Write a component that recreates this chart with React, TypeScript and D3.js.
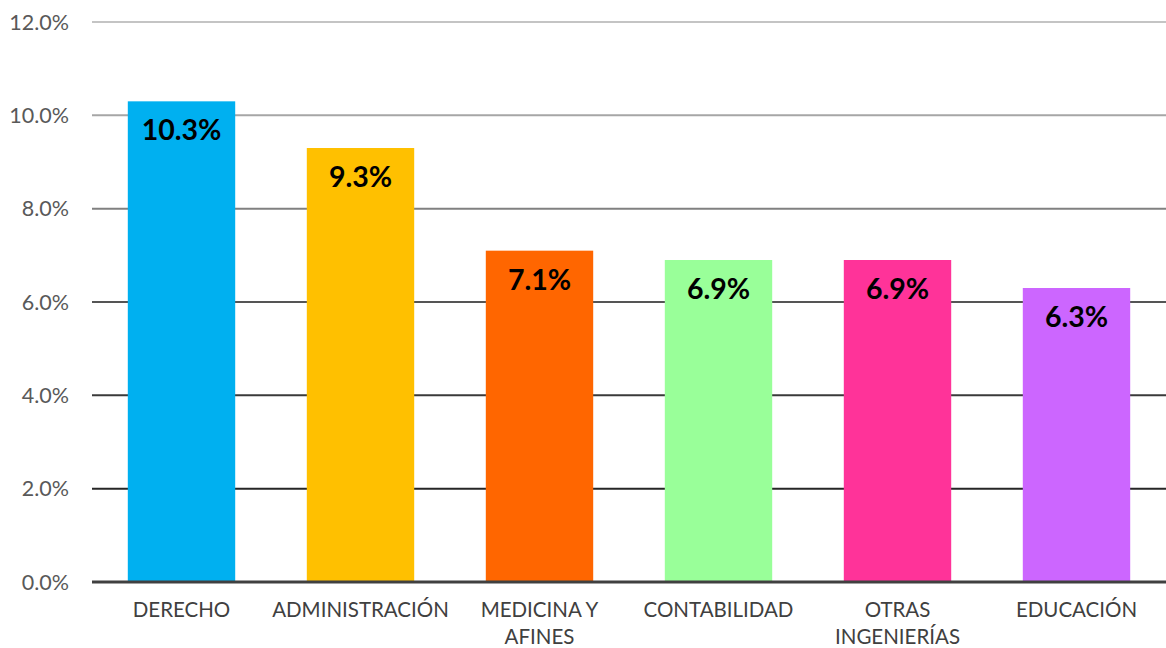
import React from "react";
import * as d3 from "d3";

const categories = [["DERECHO"], ["ADMINISTRACIÓN"], ["MEDICINA Y", "AFINES"], ["CONTABILIDAD"], ["OTRAS", "INGENIERÍAS"], ["EDUCACIÓN"]];
const values = [10.3, 9.3, 7.1, 6.9, 6.9, 6.3];
const colors = ["#00B0F0", "#FFC000", "#FF6600", "#99FF99", "#FF3399", "#CC66FF"];
const ticks = [0, 2, 4, 6, 8, 10, 12];
const gridColors = ["#404040", "#262626", "#3a3a3a", "#555555", "#808080", "#a6a6a6", "#c4c4c4"];

export default function App() {
  const W = 1166, H = 648;
  const left = 92, right = 1166, top = 22, bottom = 582;
  const keys = categories.map((_, i) => String(i));
  const x = d3.scaleBand().domain(keys).range([left, right]).paddingInner(0.4).paddingOuter(0.2);
  const y = d3.scaleLinear().domain([0, 12]).range([bottom, top]);
  const font = "'Century Gothic', 'URW Gothic', Lato, 'DejaVu Sans', sans-serif";
  return (
    <svg width={W} height={H} style={{ position: "absolute", left: 0, top: 0 }} fontFamily={font}>
      <rect width={W} height={H} fill="#fff" />
      {ticks.map((t, i) => (
        <g key={t}>
          {t > 0 && <line x1={left} x2={right} y1={y(t)} y2={y(t)} stroke={gridColors[i]} strokeWidth={2} />}
          <text x={69} y={y(t)} dy="0.35em" textAnchor="end" fontSize={21.5} fill="#595959">{t.toFixed(1)}%</text>
        </g>
      ))}
      {values.map((v, i) => (
        <g key={i}>
          <rect x={x(String(i))} y={y(v)} width={x.bandwidth()} height={bottom - y(v)} fill={colors[i]} />
          <text x={x(String(i))! + x.bandwidth() / 2} y={y(v) + 39} textAnchor="middle" fontSize={28.5} fontWeight="bold" fill="#000">{v.toFixed(1)}%</text>
        </g>
      ))}
      <line x1={left} x2={right} y1={bottom} y2={bottom} stroke="#404040" strokeWidth={3} />
      {categories.map((lines, i) => (
        <text key={i} x={x(String(i))! + x.bandwidth() / 2} y={617} textAnchor="middle" fontSize={20.5} fill="#404040">
          {lines.map((l, j) => (
            <tspan key={j} x={x(String(i))! + x.bandwidth() / 2} dy={j === 0 ? 0 : 26.5}>{l}</tspan>
          ))}
        </text>
      ))}
    </svg>
  );
}
